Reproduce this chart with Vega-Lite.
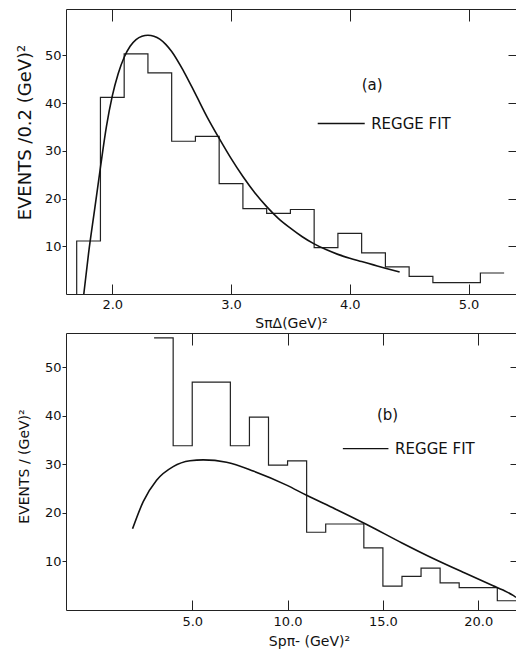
{
  "$schema": "https://vega.github.io/schema/vega-lite/v6.json",
  "background": "white",
  "padding": {"left": 16, "top": 8, "right": 0, "bottom": 4},
  "spacing": 2,
  "config": {
    "view": {"stroke": null},
    "font": "DejaVu Sans",
    "axis": {
      "labelFont": "DejaVu Sans",
      "titleFont": "DejaVu Sans",
      "labelColor": "#111",
      "titleColor": "#111",
      "domainColor": "#222",
      "tickColor": "#222",
      "grid": false,
      "titleFontWeight": "normal",
      "labelFontSize": 13,
      "titleFontSize": 14
    }
  },
  "datasets": {
    "histA": [
      {"i": 0, "s": 1.7, "n": 0},
      {"i": 1, "s": 1.7, "n": 11.1},
      {"i": 2, "s": 1.9, "n": 41.2},
      {"i": 3, "s": 2.1, "n": 50.3},
      {"i": 4, "s": 2.3, "n": 46.3},
      {"i": 5, "s": 2.5, "n": 32.0},
      {"i": 6, "s": 2.7, "n": 33.0},
      {"i": 7, "s": 2.9, "n": 23.1},
      {"i": 8, "s": 3.1, "n": 17.9},
      {"i": 9, "s": 3.3, "n": 16.9},
      {"i": 10, "s": 3.5, "n": 17.7},
      {"i": 11, "s": 3.7, "n": 9.7},
      {"i": 12, "s": 3.9, "n": 12.7},
      {"i": 13, "s": 4.1, "n": 8.6},
      {"i": 14, "s": 4.3, "n": 5.7},
      {"i": 15, "s": 4.5, "n": 3.7},
      {"i": 16, "s": 4.7, "n": 2.4},
      {"i": 17, "s": 4.9, "n": 2.4},
      {"i": 18, "s": 5.1, "n": 4.4},
      {"i": 19, "s": 5.3, "n": 4.4}
    ],
    "curveA": [
      {"s": 1.76, "n": 0},
      {"s": 1.8, "n": 8.5},
      {"s": 1.85, "n": 17.5},
      {"s": 1.9, "n": 26.5},
      {"s": 1.95, "n": 35.0},
      {"s": 2.0, "n": 41.5},
      {"s": 2.05, "n": 46.2},
      {"s": 2.1, "n": 49.6},
      {"s": 2.15, "n": 51.9},
      {"s": 2.2, "n": 53.3},
      {"s": 2.25, "n": 54.0},
      {"s": 2.3, "n": 54.2},
      {"s": 2.35, "n": 54.0},
      {"s": 2.4, "n": 53.4},
      {"s": 2.45, "n": 52.3},
      {"s": 2.5, "n": 50.8},
      {"s": 2.6, "n": 46.7},
      {"s": 2.7, "n": 41.9},
      {"s": 2.8, "n": 37.0},
      {"s": 2.9, "n": 32.6},
      {"s": 3.0, "n": 28.4},
      {"s": 3.1, "n": 24.6},
      {"s": 3.2, "n": 21.2},
      {"s": 3.3, "n": 18.3},
      {"s": 3.4, "n": 15.8},
      {"s": 3.5, "n": 13.8},
      {"s": 3.6, "n": 12.0},
      {"s": 3.7, "n": 10.5},
      {"s": 3.8, "n": 9.3},
      {"s": 3.9, "n": 8.3},
      {"s": 4.0, "n": 7.5},
      {"s": 4.1, "n": 6.8},
      {"s": 4.2, "n": 6.1},
      {"s": 4.3, "n": 5.4},
      {"s": 4.42, "n": 4.6}
    ],
    "legA": [{"x1": 3.73, "x2": 4.126, "y": 35.7}],
    "txtA": [
      {"x": 4.18, "y": 35.7, "label": "REGGE FIT"},
      {"x": 4.1, "y": 43.7, "label": "(a)"}
    ],
    "histB": [
      {"i": 0, "s": 3, "n": 56.0},
      {"i": 1, "s": 4, "n": 33.8},
      {"i": 2, "s": 5, "n": 46.9},
      {"i": 3, "s": 7, "n": 33.8},
      {"i": 4, "s": 8, "n": 39.7},
      {"i": 5, "s": 9, "n": 29.8},
      {"i": 6, "s": 10, "n": 30.7},
      {"i": 7, "s": 11, "n": 16.0},
      {"i": 8, "s": 12, "n": 17.7},
      {"i": 9, "s": 14, "n": 12.8},
      {"i": 10, "s": 15, "n": 4.9},
      {"i": 11, "s": 16, "n": 6.9},
      {"i": 12, "s": 17, "n": 8.6},
      {"i": 13, "s": 18, "n": 5.6},
      {"i": 14, "s": 19, "n": 4.6},
      {"i": 15, "s": 21, "n": 1.9},
      {"i": 16, "s": 21.98, "n": 1.9}
    ],
    "curveB": [
      {"s": 1.87, "n": 16.7},
      {"s": 2.43, "n": 22.3},
      {"s": 3.13, "n": 26.7},
      {"s": 4.0, "n": 29.5},
      {"s": 4.88, "n": 30.7},
      {"s": 5.58, "n": 30.9},
      {"s": 6.8, "n": 30.4},
      {"s": 8.2, "n": 28.6},
      {"s": 9.95, "n": 25.7},
      {"s": 11.0, "n": 23.6},
      {"s": 12.5, "n": 20.8},
      {"s": 14.15, "n": 17.6},
      {"s": 16.0, "n": 13.8},
      {"s": 17.64, "n": 10.6},
      {"s": 19.3, "n": 7.6},
      {"s": 20.78, "n": 5.0},
      {"s": 21.3, "n": 4.1},
      {"s": 21.83, "n": 3.0},
      {"s": 21.98, "n": 2.6}
    ],
    "legB": [{"x1": 12.9, "x2": 15.29, "y": 33.2}],
    "txtB": [
      {"x": 15.64, "y": 33.2, "label": "REGGE FIT"},
      {"x": 14.69, "y": 40.2, "label": "(b)"}
    ]
  },
  "vconcat": [
    {
      "width": 450,
      "height": 285,
      "resolve": {"axis": {"x": "independent", "y": "independent"}},
      "layer": [
        {
          "data": {"name": "histA"},
          "mark": {"type": "line", "interpolate": "step-after", "color": "#222", "strokeWidth": 1.2},
          "encoding": {
            "x": {"field": "s", "type": "quantitative",
              "scale": {"domain": [1.61, 5.4], "nice": false, "zero": false},
              "axis": {"orient": "bottom", "values": [2, 3, 4, 5], "format": ".1f", "tickSize": -10, "labelPadding": 14, "title": "SπΔ(GeV)²", "titlePadding": 5, "titleFontSize": 14}},
            "y": {"field": "n", "type": "quantitative",
              "scale": {"domain": [0, 59.7], "nice": false},
              "axis": {"orient": "left", "values": [10, 20, 30, 40, 50], "tickSize": 4, "labelPadding": 1, "title": "EVENTS /0.2 (GeV)²", "titleFontSize": 18, "titleY": 123, "titlePadding": 10}},
            "order": {"field": "i"}
          }
        },
        {
          "data": {"name": "curveA"},
          "mark": {"type": "line", "interpolate": "monotone", "color": "#111", "strokeWidth": 1.6},
          "encoding": {
            "x": {"field": "s", "type": "quantitative",
              "axis": {"orient": "top", "values": [2, 3, 4, 5], "labels": false, "title": null, "tickSize": -12}},
            "y": {"field": "n", "type": "quantitative",
              "axis": {"orient": "right", "values": [10, 20, 30, 40, 50], "labels": false, "title": null, "tickSize": -8, "domain": false}}
          }
        },
        {
          "data": {"name": "legA"},
          "mark": {"type": "rule", "color": "#111", "strokeWidth": 1.4},
          "encoding": {
            "x": {"field": "x1", "type": "quantitative", "axis": null},
            "x2": {"field": "x2"},
            "y": {"field": "y", "type": "quantitative", "axis": null}
          }
        },
        {
          "data": {"name": "txtA"},
          "mark": {"type": "text", "align": "left", "baseline": "middle", "fontSize": 15, "font": "DejaVu Sans", "color": "#111"},
          "encoding": {
            "x": {"field": "x", "type": "quantitative", "axis": null},
            "y": {"field": "y", "type": "quantitative", "axis": null},
            "text": {"field": "label"}
          }
        }
      ]
    },
    {
      "width": 450,
      "height": 277,
      "resolve": {"axis": {"x": "independent", "y": "independent"}},
      "layer": [
        {
          "data": {"name": "histB"},
          "mark": {"type": "line", "interpolate": "step-after", "color": "#222", "strokeWidth": 1.2},
          "encoding": {
            "x": {"field": "s", "type": "quantitative",
              "scale": {"domain": [-1.62, 21.98], "nice": false, "zero": false},
              "axis": {"orient": "bottom", "values": [5, 10, 15, 20], "format": ".1f", "tickSize": -10, "labelPadding": 15, "title": "Spπ- (GeV)²", "titlePadding": 6, "titleFontSize": 14, "titleX": 243}},
            "y": {"field": "n", "type": "quantitative",
              "scale": {"domain": [0, 57], "nice": false},
              "axis": {"orient": "left", "values": [10, 20, 30, 40, 50], "tickSize": 4, "labelPadding": 1, "title": "EVENTS / (GeV)²", "titleFontSize": 14, "titleY": 133, "titlePadding": 13}},
            "order": {"field": "i"}
          }
        },
        {
          "data": {"name": "curveB"},
          "mark": {"type": "line", "interpolate": "monotone", "color": "#111", "strokeWidth": 1.6},
          "encoding": {
            "x": {"field": "s", "type": "quantitative",
              "axis": {"orient": "top", "values": [5, 10, 15, 20], "labels": false, "title": null, "tickSize": -12}},
            "y": {"field": "n", "type": "quantitative",
              "axis": {"orient": "right", "values": [10, 20, 30, 40, 50], "labels": false, "title": null, "tickSize": -6, "domain": false}}
          }
        },
        {
          "data": {"name": "legB"},
          "mark": {"type": "rule", "color": "#111", "strokeWidth": 1.4},
          "encoding": {
            "x": {"field": "x1", "type": "quantitative", "axis": null},
            "x2": {"field": "x2"},
            "y": {"field": "y", "type": "quantitative", "axis": null}
          }
        },
        {
          "data": {"name": "txtB"},
          "mark": {"type": "text", "align": "left", "baseline": "middle", "fontSize": 15, "font": "DejaVu Sans", "color": "#111"},
          "encoding": {
            "x": {"field": "x", "type": "quantitative", "axis": null},
            "y": {"field": "y", "type": "quantitative", "axis": null},
            "text": {"field": "label"}
          }
        }
      ]
    }
  ]
}
